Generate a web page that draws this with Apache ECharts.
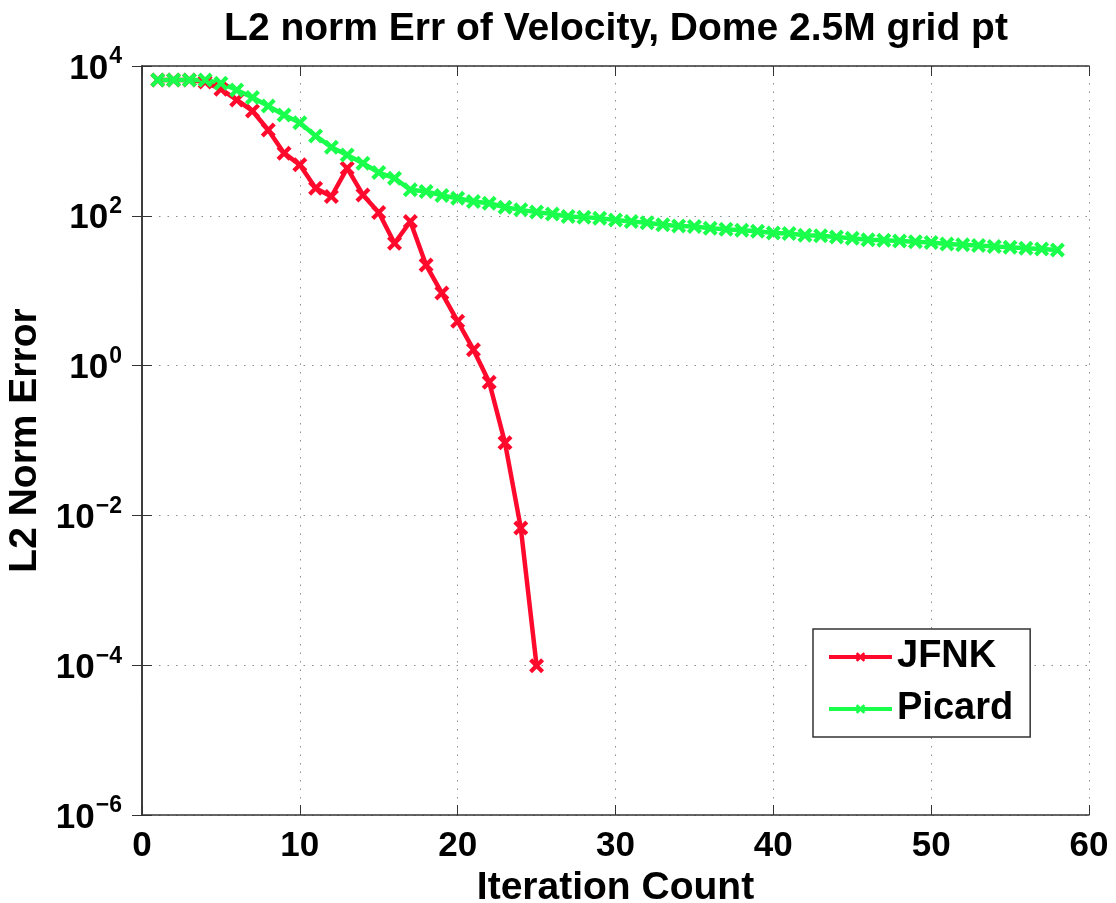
<!DOCTYPE html>
<html>
<head>
<meta charset="utf-8">
<title>L2 norm Err of Velocity</title>
<script src="https://cdn.jsdelivr.net/npm/echarts@6/dist/echarts.min.js"></script>
<style>
  html, body { margin: 0; padding: 0; background: #fff; }
  #chart { width: 1116px; height: 903px; }
</style>
</head>
<body>
<div id="chart"></div>
<script>
// iteration counts
const jfnkIter = [1, 2, 3, 4, 5, 6, 7, 8, 9, 10, 11, 12, 13, 14, 15, 16, 17, 18, 19, 20, 21, 22, 23, 24, 25]
const jfnkErr = [6500, 6500, 6500, 6100, 4900, 3520, 2510, 1400, 686, 479, 234, 181, 432, 190, 111, 43, 84, 22, 9.3, 3.9, 1.63, 0.6, 0.093, 0.0068, 0.000098]

const picardIter = []
for (let i = 1; i <= 58; i++) picardIter.push(i)
const picardErr = [
  6500, 6500, 6500, 6500, 5900, 4790, 3800, 2930, 2220, 1750,
  1166, 824, 650, 503, 378, 318, 222, 211, 187, 172,
  155, 147, 130, 120, 112, 106, 98, 96, 93, 88,
  84, 81, 76, 73, 72, 68, 66, 64, 62, 59,
  58, 55, 54, 52, 50, 48, 47, 46, 45, 44,
  42, 41, 40, 39, 38, 37, 36, 35
]

const xTicks = [0, 10, 20, 30, 40, 50, 60]

const fontFam = '"Liberation Sans", Arial, Helvetica, sans-serif'
const axisColor = '#333'
const gridLine = { show: true, lineStyle: { color: '#8c8c8c', type: [1.5, 7], width: 1 } }
// thick "x" marker like MATLAB's
const xMark = 'path://M2,0 L5,3 L8,0 L10,2 L7,5 L10,8 L8,10 L5,7 L2,10 L0,8 L3,5 L0,2 Z'

const toPairs = (xs, ys) => xs.map((x, i) => [x, ys[i]])

const chart = echarts.init(document.getElementById('chart'))
chart.setOption({
  animation: false,
  backgroundColor: '#fff',
  textStyle: { fontFamily: fontFam },
  graphic: [
    {
      type: 'text',
      x: 616,
      y: 29,
      style: {
        text: 'L2 norm Err of Velocity, Dome 2.5M grid pt',
        align: 'center',
        verticalAlign: 'middle',
        fontSize: 39,
        fontWeight: 'bold',
        fontFamily: fontFam,
        fill: '#000'
      }
    }
  ],
  grid: { left: 142, right: 27, top: 66, bottom: 88, outerBoundsMode: 'none', containLabel: false },
  legend: {
    orient: 'vertical',
    left: 813,
    top: 629,
    padding: [8, 17, 8, 14],
    backgroundColor: '#fff',
    borderColor: axisColor,
    borderWidth: 1.5,
    itemWidth: 63,
    itemHeight: 12,
    itemGap: 12,
    lineStyle: { width: 4 },
    data: ['JFNK', 'Picard'],
    textStyle: { fontSize: 38, fontWeight: 'bold', color: '#000', lineHeight: 40, fontFamily: fontFam }
  },
  xAxis: [
    {
      type: 'value',
      min: 0,
      max: 60,
      interval: 10,
      name: 'Iteration Count',
      nameLocation: 'middle',
      nameGap: 51,
      nameTextStyle: { fontSize: 39, fontWeight: 'bold', color: '#000', fontFamily: fontFam },
      axisLine: { show: true, lineStyle: { color: axisColor, width: 1.5 } },
      axisTick: { show: true, inside: true, length: 10, lineStyle: { color: axisColor } },
      axisLabel: {
        margin: 14,
        fontSize: 35,
        fontWeight: 'bold',
        color: '#000',
        formatter: v => (xTicks.indexOf(v) >= 0 ? String(v) : '')
      },
      splitLine: gridLine
    },
    {
      type: 'value',
      position: 'top',
      min: 0,
      max: 60,
      interval: 10,
      axisLine: { show: true, lineStyle: { color: axisColor, width: 1.5 } },
      axisTick: { show: true, inside: true, length: 10, lineStyle: { color: axisColor } },
      axisLabel: { show: false },
      splitLine: { show: false }
    }
  ],
  yAxis: [
    {
      type: 'log',
      logBase: 10,
      min: 1e-6,
      max: 1e4,
      interval: 2,
      name: 'L2 Norm Error',
      nameLocation: 'middle',
      nameGap: 95,
      nameTextStyle: { fontSize: 39, fontWeight: 'bold', color: '#000', fontFamily: fontFam },
      axisLine: { show: true, lineStyle: { color: axisColor, width: 1.5 } },
      axisTick: { show: true, inside: true, length: 10, lineStyle: { color: axisColor } },
      axisLabel: {
        margin: 20,
        formatter: v => {
          const e = Math.round(Math.log10(v))
          return '{b|10}{s|' + (e < 0 ? '\u2212' + (-e) : e) + '}'
        },
        rich: {
          b: { fontSize: 35, fontWeight: 'bold', color: '#000', fontFamily: fontFam, verticalAlign: 'bottom', lineHeight: 40 },
          s: { fontSize: 23, fontWeight: 'bold', color: '#000', fontFamily: fontFam, verticalAlign: 'bottom', padding: [0, 0, 18, 1] }
        }
      },
      splitLine: gridLine
    },
    {
      type: 'log',
      logBase: 10,
      position: 'right',
      min: 1e-6,
      max: 1e4,
      interval: 2,
      axisLine: { show: true, lineStyle: { color: axisColor, width: 1.5 } },
      axisTick: { show: true, inside: true, length: 10, lineStyle: { color: axisColor } },
      axisLabel: { show: false },
      splitLine: { show: false }
    }
  ],
  series: [
    {
      name: 'JFNK',
      type: 'line',
      data: toPairs(jfnkIter, jfnkErr),
      color: '#ff0a2c',
      lineStyle: { width: 4.5, color: '#ff0a2c' },
      symbol: xMark,
      symbolSize: 15,
      showAllSymbol: true,
      itemStyle: { color: '#ff0a2c' }
    },
    {
      name: 'Picard',
      type: 'line',
      data: toPairs(picardIter, picardErr),
      color: '#1aff4c',
      lineStyle: { width: 4.5, color: '#1aff4c' },
      symbol: xMark,
      symbolSize: 15,
      showAllSymbol: true,
      itemStyle: { color: '#1aff4c' }
    }
  ]
})
</script>
</body>
</html>
